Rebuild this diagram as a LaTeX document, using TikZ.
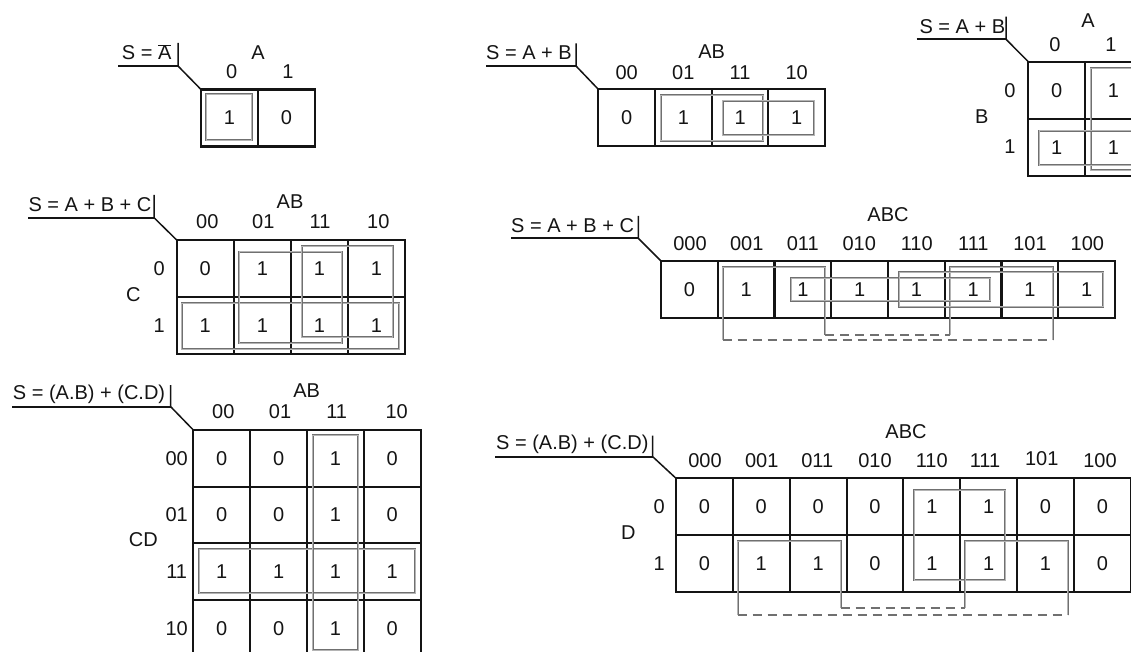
\documentclass[tikz,border=0pt]{standalone}
\usepackage{fontspec}
\setmainfont{Liberation Sans}
\definecolor{grpdark}{RGB}{112,112,112}
\definecolor{grplight}{RGB}{180,180,180}
\newcommand{\KGrid}[6]{% x0, y0, cell w, cell h, columns, rows
  \foreach \ii in {0,...,#5} \draw[cellgrid] ({#1+\ii*#3},#2) -- ({#1+\ii*#3},{#2+#6*#4});
  \foreach \jj in {0,...,#6} \draw[cellgrid] (#1,{#2+\jj*#4}) -- ({#1+#5*#3},{#2+\jj*#4});
}
\begin{document}
\begin{tikzpicture}[x=1pt,y=-1pt,
  lbl/.style={font=\fontsize{20}{24}\selectfont, inner sep=0pt, text=black!92},
  cellgrid/.style={draw=black!92, line width=2.1pt, line cap=rect},
  grp/.style={draw=grpdark, line width=0.8pt, double=grplight, double distance=0.7pt},
  link/.style={draw=grpdark, line width=1.7pt, dash pattern=on 9pt off 6pt},
  uline/.style={draw=black!92, line width=2.2pt},
  tick/.style={draw=black!92, line width=1.5pt}]
\useasboundingbox (0,0) rectangle (1131,652);
\clip (0,0) rectangle (1131,652);

% ---------------- Map 1 : S = not A
\node[lbl, anchor=base west] (t1) at (121.7,60) {S = $\overline{\mbox{A}}$};
\coordinate (t1l) at (118,66); \coordinate (t1c) at (178,66);
\coordinate (t1b) at (178,43); \coordinate (g1) at (201,89.5);
\draw[uline] (t1l) -- (t1c);
\draw[tick] (t1b) -- (t1c) -- (g1);
\KGrid{201}{89.5}{57}{57}{2}{1}
\node[lbl] (m1h) at (258,52.7) {A};
\node[lbl] (m1c1) at (231.7,71.7) {0};
\node[lbl] (m1c2) at (288,71.7) {1};
\node[lbl] (m1v1) at (229.5,118) {1};
\node[lbl] (m1v2) at (286.5,118) {0};
\draw[grp] (206,94.3) rectangle (251.7,140);

% ---------------- Map 2 : S = A + B (1 x 4)
\node[lbl, anchor=base west] (t2) at (486,60) {S = A + B};
\coordinate (t2l) at (486,66); \coordinate (t2c) at (576,66);
\coordinate (t2b) at (576,43.3); \coordinate (g2) at (598.3,89.3);
\draw[uline] (t2l) -- (t2c);
\draw[tick] (t2b) -- (t2c) -- (g2);
\KGrid{598.3}{89.3}{56.7}{56.8}{4}{1}
\node[lbl] (m2h) at (711.7,51.7) {AB};
\foreach \lab/\xx [count=\i] in {00/626.7,01/683.3,11/740,10/796.7}
  \node[lbl] (m2c\i) at (\xx,72.7) {\lab};
\foreach \val [count=\i from 0] in {0,1,1,1}
  \node[lbl] (m2v\i) at ({598.3+(\i+0.5)*56.7},117.5) {\val};
\draw[grp] (660.7,95) rectangle (763.3,140.7);
\draw[grp] (722.7,100.7) rectangle (814.3,135.3);

% ---------------- Map 3 : S = A + B (2 x 2)
\node[lbl, anchor=base west] (t3) at (919.3,33.3) {S = A + B};
\coordinate (t3l) at (916.7,39.3); \coordinate (t3c) at (1006,39.3);
\coordinate (t3b) at (1006,16.7); \coordinate (g3) at (1028.3,61.7);
\draw[uline] (t3l) -- (t3c);
\draw[tick] (t3b) -- (t3c) -- (g3);
\KGrid{1028.3}{61.7}{56.7}{57.3}{2}{2}
\node[lbl] (m3h) at (1088,20.7) {A};
\node[lbl] (m3c1) at (1055,44.3) {0};
\node[lbl] (m3c2) at (1111,44.3) {1};
\node[lbl] (m3r1) at (1010,90.3) {0};
\node[lbl] (m3r2) at (1010,147) {1};
\node[lbl] (m3b) at (981.7,116.7) {B};
\node[lbl] (m3v1) at (1056.6,90.5) {0};
\node[lbl] (m3v2) at (1113.3,90.5) {1};
\node[lbl] (m3v3) at (1056.6,147.5) {1};
\node[lbl] (m3v4) at (1113.3,147.5) {1};
\draw[grp] (1090.7,68.3) rectangle (1136.3,170);
\draw[grp] (1039.3,130.7) rectangle (1136.3,165);

% ---------------- Map 4 : S = A + B + C (2 x 4)
\node[lbl, anchor=base west] (t4) at (28.3,211.7) {S = A + B + C};
\coordinate (t4l) at (28.3,217.7); \coordinate (t4c) at (154,217.7);
\coordinate (t4b) at (154,195); \coordinate (g4) at (176.7,240);
\draw[uline] (t4l) -- (t4c);
\draw[tick] (t4b) -- (t4c) -- (g4);
\KGrid{176.7}{240}{57.1}{57}{4}{2}
\node[lbl] (m4h) at (290,201.7) {AB};
\foreach \lab/\xx [count=\i] in {00/207.3,01/263.3,11/320,10/378.3}
  \node[lbl] (m4c\i) at (\xx,221.7) {\lab};
\node[lbl] (m4r1) at (159.3,268.5) {0};
\node[lbl] (m4r2) at (159.3,325.3) {1};
\node[lbl] (m4C) at (133.3,295) {C};
\foreach \val [count=\i from 0] in {0,1,1,1}
  \node[lbl] (m4a\i) at ({176.7+(\i+0.5)*57.1},268.7) {\val};
\foreach \val [count=\i from 0] in {1,1,1,1}
  \node[lbl] (m4b\i) at ({176.7+(\i+0.5)*57.1},325.7) {\val};
\draw[grp] (181.7,303.3) rectangle (399.3,349.3);
\draw[grp] (239,251.7) rectangle (341.7,343.3);
\draw[grp] (301.7,246) rectangle (392.7,337.3);

% ---------------- Map 5 : S = A + B + C (1 x 8)
\node[lbl, anchor=base west] (t5) at (511,232.7) {S = A + B + C};
\coordinate (t5l) at (511,238.3); \coordinate (t5c) at (638.3,238.3);
\coordinate (t5b) at (638.3,216); \coordinate (g5) at (661,261);
\draw[uline] (t5l) -- (t5c);
\draw[tick] (t5b) -- (t5c) -- (g5);
\KGrid{661}{261}{56.75}{57}{8}{1}
\node[lbl] (m5h) at (888,215) {ABC};
\foreach \lab/\xx [count=\i] in {000/690,001/746.7,011/802.7,010/859.3,110/916.7,111/973.3,101/1030,100/1087.3}
  \node[lbl] (m5c\i) at (\xx,243.3) {\lab};
\foreach \val [count=\i from 0] in {0,1,1,1,1,1,1,1}
  \node[lbl] (m5v\i) at ({661+(\i+0.5)*56.75},289.5) {\val};
\coordinate (p5a) at (722.7,340); \coordinate (p5b) at (722.7,267.3);
\coordinate (p5c) at (825,267.3); \coordinate (p5d) at (825,335);
\coordinate (p5e) at (950,335); \coordinate (p5f) at (950,267.3);
\coordinate (p5g) at (1052.7,267.3); \coordinate (p5h) at (1052.7,340);
\draw[grp] (p5a) -- (p5b) -- (p5c) -- (p5d);
\draw[grp] (p5e) -- (p5f) -- (p5g) -- (p5h);
\draw[grp] (791,278.3) rectangle (990,300.7);
\draw[grp] (899,272.3) rectangle (1103.3,306.7);
\draw[link] (p5d) -- (p5e);
\draw[link] (p5a) -- (p5h);

% ---------------- Map 6 : S = (A.B) + (C.D) (4 x 4)
\node[lbl, anchor=base west] (t6) at (12.7,399.3) {S = (A.B) + (C.D)};
\coordinate (t6l) at (12,406.7); \coordinate (t6c) at (170.7,406.7);
\coordinate (t6b) at (170.7,385); \coordinate (g6) at (193.3,430);
\draw[uline] (t6l) -- (t6c);
\draw[tick] (t6b) -- (t6c) -- (g6);
\KGrid{193.3}{430}{56.85}{56.6}{4}{4}
\node[lbl] (m6h) at (306.7,390.7) {AB};
\foreach \lab/\xx [count=\i] in {00/223.3,01/280,11/336.7,10/396.7}
  \node[lbl] (m6c\i) at (\xx,411.7) {\lab};
\foreach \lab/\yy [count=\i] in {00/458.3,01/515,11/571.7,10/628.3}
  \node[lbl] (m6r\i) at (176.7,\yy) {\lab};
\node[lbl] (m6CD) at (143.3,540) {CD};
\foreach \val [count=\i from 0] in {0,0,1,0}
  \node[lbl] (m6a\i) at ({193.3+(\i+0.5)*56.85},458.3) {\val};
\foreach \val [count=\i from 0] in {0,0,1,0}
  \node[lbl] (m6b\i) at ({193.3+(\i+0.5)*56.85},515) {\val};
\foreach \val [count=\i from 0] in {1,1,1,1}
  \node[lbl] (m6c\i) at ({193.3+(\i+0.5)*56.85},571.7) {\val};
\foreach \val [count=\i from 0] in {0,0,1,0}
  \node[lbl] (m6d\i) at ({193.3+(\i+0.5)*56.85},628.3) {\val};
\draw[grp] (199,549.3) rectangle (415,593.3);
\draw[grp] (312.7,435) rectangle (358.3,650);

% ---------------- Map 7 : S = (A.B) + (C.D) (2 x 8)
\node[lbl, anchor=base west] (t7) at (496,449) {S = (A.B) + (C.D)};
\coordinate (t7l) at (495,456.7); \coordinate (t7c) at (652.7,456.7);
\coordinate (t7b) at (652.7,435.7); \coordinate (g7) at (676,478.3);
\draw[uline] (t7l) -- (t7c);
\draw[tick] (t7b) -- (t7c) -- (g7);
\KGrid{676}{478.3}{56.85}{57}{8}{2}
\node[lbl] (m7h) at (906,431.7) {ABC};
\foreach \lab/\xx/\yy [count=\i] in {000/705/461,001/761.7/461,011/817.3/461,010/875/461,110/931.7/461,111/985/461,101/1041.7/458.5,100/1100/461}
  \node[lbl] (m7c\i) at (\xx,\yy) {\lab};
\node[lbl] (m7r1) at (659.3,506.7) {0};
\node[lbl] (m7r2) at (659.3,563.3) {1};
\node[lbl] (m7D) at (628.3,532.3) {D};
\foreach \val [count=\i from 0] in {0,0,0,0,1,1,0,0}
  \node[lbl] (m7a\i) at ({676+(\i+0.5)*56.85},507) {\val};
\foreach \val [count=\i from 0] in {0,1,1,0,1,1,1,0}
  \node[lbl] (m7b\i) at ({676+(\i+0.5)*56.85},564) {\val};
\draw[grp] (914,490) rectangle (1005,580);
\coordinate (p7a) at (737.7,615); \coordinate (p7b) at (737.7,541);
\coordinate (p7c) at (840.7,541); \coordinate (p7d) at (840.7,608.3);
\coordinate (p7e) at (965,608.3); \coordinate (p7f) at (965,541);
\coordinate (p7g) at (1067.7,541); \coordinate (p7h) at (1067.7,615);
\draw[grp] (p7a) -- (p7b) -- (p7c) -- (p7d);
\draw[grp] (p7e) -- (p7f) -- (p7g) -- (p7h);
\draw[link] (p7d) -- (p7e);
\draw[link] (p7a) -- (p7h);
\end{tikzpicture}
\end{document}
